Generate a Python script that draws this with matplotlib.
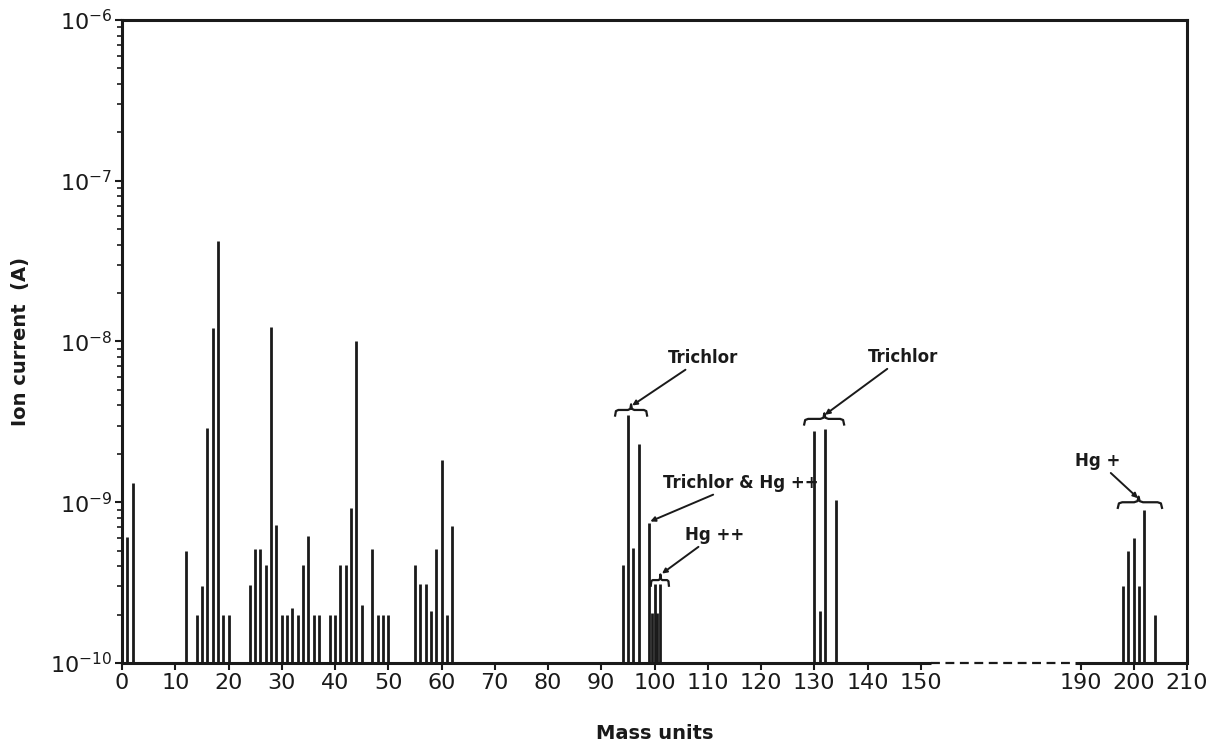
import matplotlib
matplotlib.use("Agg")
import matplotlib.pyplot as plt
import numpy as np
from matplotlib.ticker import LogLocator, NullFormatter

# peak positions (mass units) and ion currents (A)
mass = [1, 2, 12, 14, 15, 16, 17, 18, 19, 20,
        24, 25, 26, 27, 28, 29, 30, 31, 32, 33, 34, 35, 36, 37,
        39, 40, 41, 42, 43, 44, 45, 47, 48, 49, 50,
        55, 56, 57, 58, 59, 60, 61, 62,
        94, 95, 96, 97, 99, 99.5, 100, 100.5, 101,
        130, 131, 132, 134,
        198, 199, 200, 201, 202, 204]
current_e10 = [6.1, 13.1, 5.0, 2.0, 3.0, 29, 121, 424, 2.0, 2.0,
               3.05, 5.1, 5.1, 4.1, 123, 7.2, 2.0, 2.0, 2.2, 2.0, 4.1, 6.2, 2.0, 2.0,
               2.0, 2.0, 4.1, 4.1, 9.2, 101, 2.3, 5.15, 2.0, 2.0, 2.0,
               4.1, 3.1, 3.1, 2.1, 5.15, 18.2, 2.0, 7.1,
               4.1, 34.7, 5.2, 23, 7.4, 2.05, 3.1, 2.05, 3.1,
               27.6, 2.1, 28.5, 10.3,
               3.0, 5.0, 6.0, 3.0, 8.9, 2.0]
current = np.array(current_e10) * 1e-10

xticks = [0, 10, 20, 30, 40, 50, 60, 70, 80, 90, 100, 110, 120, 130, 140, 150, 190, 200, 210]

plt.rcParams['font.family'] = ['DejaVu Sans']

ink = '#1a1a1a'


# broken mass axis: 150..190 squeezed to 3/4
def fwd(x):
    x = np.asarray(x, dtype=float)
    return np.where(x <= 150, x, np.where(x >= 190, x - 10, 150 + (x - 150) * 0.75))


def inv(u):
    u = np.asarray(u, dtype=float)
    return np.where(u <= 150, u, np.where(u >= 180, u + 10, 150 + (u - 150) / 0.75))


fig = plt.figure(figsize=(12.13, 7.53), dpi=100)
ax = fig.add_axes([0.1006, 0.1195, 0.878, 0.854])
ax.set_xscale('function', functions=(fwd, inv))
ax.set_yscale('log')
ax.set_xlim(0, 210)
ax.set_ylim(1e-10, 1e-6)

ax.vlines(mass, 1e-10, current, color=ink, lw=2.0)

for s in ['left', 'top', 'right']:
    ax.spines[s].set_linewidth(2.2)
    ax.spines[s].set_color(ink)
ax.spines['bottom'].set_visible(False)
# bottom axis drawn by hand so the break can be dashed
ax.plot([0, 152.5], [1e-10, 1e-10], color=ink, lw=2.2, clip_on=False, solid_capstyle='butt')
ax.plot([152.5, 188.5], [1e-10, 1e-10], color=ink, lw=1.6, ls=(0, (4, 2.5)), clip_on=False)
ax.plot([188.5, 210], [1e-10, 1e-10], color=ink, lw=2.2, clip_on=False, solid_capstyle='butt')

ax.set_xticks(xticks)
ax.set_xticklabels([str(t) for t in xticks])
ax.xaxis.set_minor_locator(matplotlib.ticker.NullLocator())
ax.tick_params(axis='x', direction='out', length=5, width=1.5, pad=2, labelsize=16, colors=ink)
ax.yaxis.set_major_locator(LogLocator(base=10))
ax.yaxis.set_minor_locator(LogLocator(base=10, subs=np.arange(2, 10)))
ax.yaxis.set_minor_formatter(NullFormatter())
ax.tick_params(axis='y', which='major', direction='out', length=5, width=1.5, pad=2, labelsize=16, colors=ink)
ax.tick_params(axis='y', which='minor', direction='out', length=3.5, width=1.2, colors=ink)

ax.set_xlabel('Mass units', fontsize=14, fontweight='bold', color=ink)
ax.xaxis.set_label_coords(0.5, -0.095)
ax.xaxis.label.set_va('top')
ax.set_ylabel('Ion current  (A)', fontsize=14, fontweight='bold', color=ink)
ax.yaxis.set_label_coords(-0.086, 0.5)


def brace(x0, x1, y, tip=None):
    # curly bracket lying over a group of peaks
    if tip is None:
        tip = (x0 + x1) / 2
    f = 10 ** 0.035
    d = 0.1 * (x1 - x0)
    xs = [x0, x0 + d * 0.25, x0 + d, tip - d, tip - d * 0.25, tip,
          tip + d * 0.25, tip + d, x1 - d, x1 - d * 0.25, x1]
    ys = [y / f, y / f ** 0.2, y, y, y * f ** 0.2, y * f,
          y * f ** 0.2, y, y, y / f ** 0.2, y / f]
    ax.plot(xs, ys, color=ink, lw=1.6)


txt = dict(fontsize=12, fontweight='bold', color=ink, ha='left', va='center')
arw = dict(arrowstyle='-|>', color=ink, lw=1.4, mutation_scale=7, shrinkA=0, shrinkB=0)

ax.annotate('Trichlor', xy=(95.8, 4.0e-9), xytext=(102.5, 7.9e-9), arrowprops=arw, **txt)
brace(92.6, 98.6, 3.75e-9, tip=95.6)
ax.annotate('Trichlor', xy=(132.0, 3.5e-9), xytext=(140.1, 8.0e-9), arrowprops=arw, **txt)
brace(128.1, 135.6, 3.3e-9, tip=131.9)
ax.annotate('Trichlor & Hg ++', xy=(99.2, 7.6e-10), xytext=(101.6, 1.32e-9),
            arrowprops=arw, **txt)
ax.annotate('Hg ++', xy=(101.4, 3.6e-10), xytext=(105.7, 6.25e-10), arrowprops=arw, **txt)
brace(99.3, 102.7, 3.28e-10, tip=101.1)
ax.annotate('Hg +', xy=(200.8, 1.06e-9), xytext=(188.7, 1.8e-9), arrowprops=arw, **txt)
brace(197.0, 205.3, 1.0e-9, tip=200.9)

fig.savefig('out.png', dpi=100)
